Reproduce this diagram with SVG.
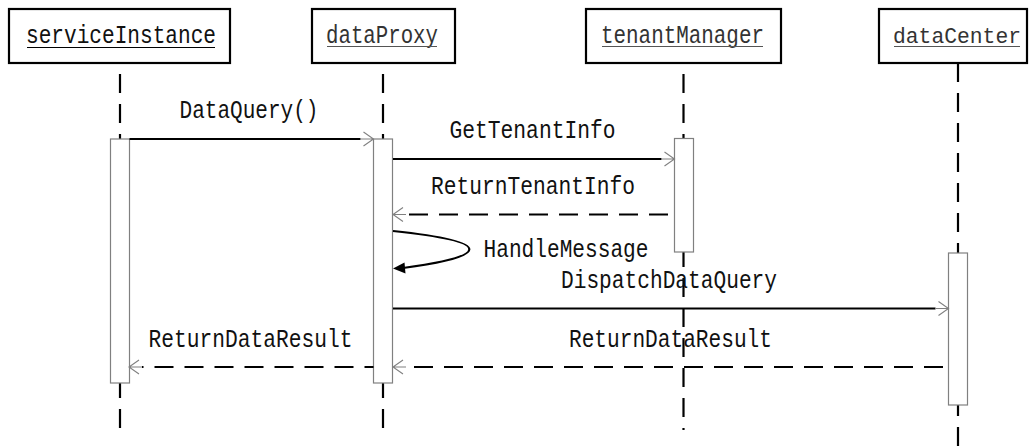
<svg xmlns="http://www.w3.org/2000/svg" width="1031" height="447" viewBox="0 0 1031 447">
  <style>
    .head { fill: #fff; stroke: #000; stroke-width: 2.2; }
    .act { fill: #fff; stroke: #808080; stroke-width: 1.2; }
    .life { fill: none; stroke: #000; stroke-width: 2.2; stroke-dasharray: 19 11; }
    .msg { fill: none; stroke: #000; stroke-width: 2.2; }
    .ret { fill: none; stroke: #000; stroke-width: 2.2; stroke-dasharray: 19 11; }
    .t { font-family: "Liberation Mono", "DejaVu Sans Mono", monospace; font-size: 25px; fill: #111; }
    .name { fill: #333; }
    .small { font-size: 22.5px; }
    .ul { stroke: #555; stroke-width: 1; }
  </style>
  <defs>
    <!-- open chevron with a thin grey shaft, drawn from the end of the black line -->
    <marker id="open" markerUnits="userSpaceOnUse" markerWidth="20" markerHeight="20" refX="0" refY="0" viewBox="-2 -10 20 20" orient="auto" overflow="visible">
      <path d="M0,0 H13 M3,-7 L13,0 L3,7" fill="none" stroke="#808080" stroke-width="1.1"/>
    </marker>
  </defs>

  <rect width="1031" height="447" fill="#fff"/>

  <!-- lifelines -->
  <g id="lifelines">
    <line class="life" x1="120" y1="63" x2="120" y2="139" stroke-dashoffset="19"/>
    <line class="life" x1="120" y1="383" x2="120" y2="430" stroke-dashoffset="4"/>
    <line class="life" x1="383" y1="63" x2="383" y2="139" stroke-dashoffset="19"/>
    <line class="life" x1="383" y1="383" x2="383" y2="430" stroke-dashoffset="4"/>
    <line class="life" x1="683.5" y1="63" x2="683.5" y2="138.5" stroke-dashoffset="19"/>
    <line class="life" x1="683.5" y1="252" x2="683.5" y2="430" stroke-dashoffset="4"/>
    <line class="life" x1="958" y1="63" x2="958" y2="253"/>
    <line class="life" x1="958" y1="405" x2="958" y2="447" stroke-dashoffset="8"/>
  </g>

  <!-- participants -->
  <g id="serviceInstance">
    <rect class="head" x="9" y="9" width="221" height="54"/>
    <text class="t" x="26" y="43" textLength="190" lengthAdjust="spacingAndGlyphs" fill="#000">serviceInstance</text>
    <line x1="27" y1="47.5" x2="215" y2="47.5" stroke="#000" stroke-width="1"/>
    <rect class="act" x="110.5" y="139" width="19" height="244"/>
  </g>
  <g id="dataProxy">
    <rect class="head" x="312" y="9" width="143" height="54"/>
    <text class="t name" x="326" y="43" textLength="112" lengthAdjust="spacingAndGlyphs">dataProxy</text>
    <line class="ul" x1="327" y1="46.5" x2="437" y2="46.5"/>
    <rect class="act" x="373.5" y="139" width="19" height="244"/>
  </g>
  <g id="tenantManager">
    <rect class="head" x="586" y="9" width="195" height="54"/>
    <text class="t name" x="601" y="43" textLength="163" lengthAdjust="spacingAndGlyphs">tenantManager</text>
    <line class="ul" x1="602" y1="46.5" x2="763" y2="46.5"/>
    <rect class="act" x="674.5" y="138.5" width="19" height="113.5"/>
  </g>
  <g id="dataCenter">
    <rect class="head" x="879" y="9" width="148" height="54"/>
    <text class="t name small" x="893" y="43" textLength="128" lengthAdjust="spacingAndGlyphs">dataCenter</text>
    <line class="ul" x1="894" y1="46.5" x2="1020" y2="46.5"/>
    <rect class="act" x="948.5" y="253" width="19" height="152"/>
  </g>

  <!-- messages -->
  <g id="connectors">
    <line class="msg" x1="129.5" y1="139" x2="360.5" y2="139" marker-end="url(#open)"/>
    <line class="msg" x1="393" y1="159" x2="661.5" y2="159" marker-end="url(#open)"/>
    <line class="ret" x1="668" y1="214.5" x2="406" y2="214.5" marker-end="url(#open)"/>
    <path class="msg" d="M393,231 C440,236 470,242 469.3,249.5 C468.6,257 440,263 403,268" stroke-width="2.4"/>
    <polygon points="393,268.5 404.5,262.5 405.5,273.5" fill="#000"/>
    <line class="msg" x1="393" y1="308.5" x2="935.5" y2="308.5" marker-end="url(#open)"/>
    <line class="ret" x1="943" y1="367" x2="406" y2="367" marker-end="url(#open)"/>
    <line class="ret" x1="373.5" y1="367" x2="142" y2="367" marker-end="url(#open)" stroke-dashoffset="10"/>
  </g>

  <!-- message labels -->
  <g id="labels">
    <text class="t" x="179.5" y="118" textLength="139" lengthAdjust="spacingAndGlyphs">DataQuery()</text>
    <text class="t" x="449.5" y="138" textLength="166" lengthAdjust="spacingAndGlyphs">GetTenantInfo</text>
    <text class="t" x="431" y="193.5" textLength="204" lengthAdjust="spacingAndGlyphs">ReturnTenantInfo</text>
    <text class="t" x="483.5" y="256.5" textLength="165" lengthAdjust="spacingAndGlyphs">HandleMessage</text>
    <text class="t" x="561" y="287.5" textLength="216" lengthAdjust="spacingAndGlyphs">DispatchDataQuery</text>
    <text class="t" x="148.5" y="346.5" textLength="204" lengthAdjust="spacingAndGlyphs">ReturnDataResult</text>
    <text class="t" x="569" y="346.5" textLength="203" lengthAdjust="spacingAndGlyphs">ReturnDataResult</text>
  </g>
</svg>
